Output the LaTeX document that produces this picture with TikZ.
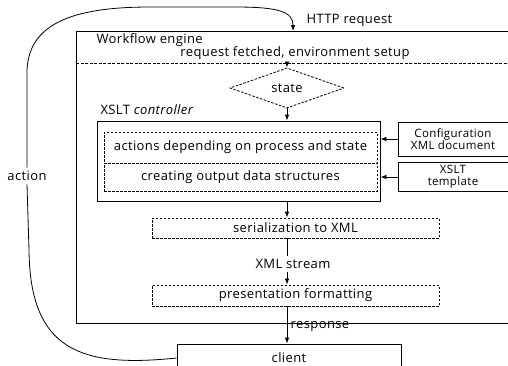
\documentclass[tikz,border=0pt]{standalone}
\usepackage{fontspec}
\setmainfont{Open Sans}[LetterSpace=3]
\usetikzlibrary{shapes.geometric}
\usetikzlibrary{positioning}
\usetikzlibrary{arrows.meta}

\begin{document}
\begin{tikzpicture}[x=1pt, y=-1pt,
		box/.style={draw, rectangle, line width=0.8pt, inner sep=0pt},
		dbox/.style={box, dash pattern=on 2.5pt off 1.5pt},
		small/.style={font=\fontsize{11.5}{12}\selectfont},
		arrow/.style={-{Latex[length=6pt,width=4.5pt]}, line width=0.8pt},
		font=\fontsize{13}{14}\selectfont
		]
		\useasboundingbox (0,0) rectangle (508,365);
		
		% Рамка движка
		\draw[line width=0.8pt] (510,31) -- (76,31) -- (76,323) -- (510,323);
		\coordinate (http) at (293,31);
		\coordinate (sepL) at (76,63);
		\coordinate (sepR) at (510,63);
		\draw[line width=0.8pt, dash pattern=on 3pt off 1.5pt] (sepL) -- (sepR);
		\node[anchor=west] (engine) at (93,40) {Workflow engine};
		\node (fetch) at (295,53) {request fetched, environment setup};
		\node[anchor=west] (httplbl) at (303,20) {HTTP request};
		
		% Состояние и контроллер
		\node[dbox, diamond, minimum width=114pt, minimum height=26pt] (state) at (287,88) {state};
		\node[anchor=west] (ctrllbl) at (97,110) {XSLT \textit{controller}};
		\node[box, minimum width=283pt, minimum height=80pt] (ctrl) at (238.5,161) {};
		\node[dbox, minimum width=273pt, minimum height=31pt] (act) at (240.5,147.5) {actions depending on process and state};
		\node[dbox, minimum width=273pt, minimum height=28pt] (out) at (240.5,177) {creating output data structures};
		
		% Входные документы
		\node[box, small, minimum width=110pt, minimum height=34pt, align=center] (conf) at (453,139) {Configuration\\XML document};
		\node[box, small, minimum width=110pt, minimum height=29pt, align=center] (tmpl) at (453,177) {XSLT\\template};
		
		% Вывод
		\node[dbox, minimum width=287pt, minimum height=20pt] (serial) at (295.5,228) {serialization to XML};
		\node (xml) at (293,264) {XML stream};
		\node[dbox, minimum width=287pt, minimum height=21pt] (present) at (295.5,295.5) {presentation formatting};
		\node[box, minimum width=224pt, minimum height=28pt] (client) at (289,358) {client};
		\node (action) at (27,176) {action};
		
		% Стрелки
		\draw[arrow] (sepL -| state.north) -- (state.north);
		\draw[arrow] (state.south) -- (state.south |- ctrl.north);
		\draw[arrow] (conf.west) -- (conf.west -| ctrl.east);
		\draw[arrow] (tmpl.west) -- (tmpl.west -| ctrl.east);
		\draw[arrow] (ctrl.south -| state.south) -- (serial.north -| state.south);
		\draw[line width=0.8pt] (serial.south -| state.south) -- (xml.north -| state.south);
		\draw[arrow] (xml.south -| state.south) -- (present.north -| state.south);
		\draw[arrow] (present.south -| state.south) -- node[right, yshift=-2pt] (resp) {response} (client.north -| state.south);
		
		% Цикл клиента
		\draw[line width=0.8pt] (client.west) .. controls (80,368) and (30,350) .. (29,250) -- (action.south);
		\draw[arrow] (action.north) -- (27,70) .. controls (29,25) and (70,7) .. (150,7) -- (235,7) .. controls (280,7) and (293,12) .. (http);
		
	\end{tikzpicture}
\end{document}
